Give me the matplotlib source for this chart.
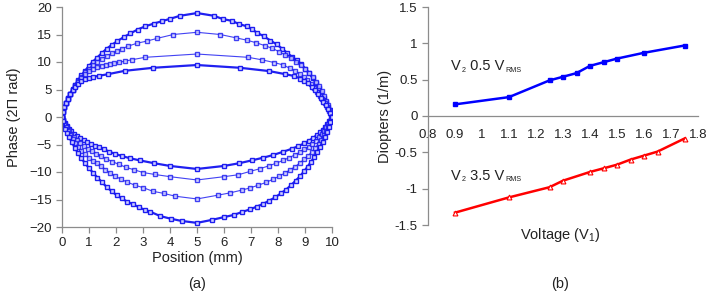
import numpy as np
import matplotlib
matplotlib.use('Agg')
import matplotlib.pyplot as plt

plt.rcParams['font.family'] = ['Liberation Sans', 'DejaVu Sans']
plt.rcParams['mathtext.fontset'] = 'custom'
plt.rcParams['mathtext.rm'] = 'Liberation Sans'

# ---- panel (a): phase profiles, upper curves ----
up19_x = [0, 0.04, 0.09, 0.15, 0.22, 0.30, 0.39, 0.49, 0.60, 0.72, 0.85, 0.99, 1.14, 1.30,
          1.47, 1.65, 1.84, 2.05, 2.28, 2.53, 2.80, 3.09, 3.41, 3.69, 4.0, 4.37, 5.0,
          5.63, 5.96, 6.28, 6.56, 6.84, 7.02, 7.23, 7.47, 7.72, 7.95, 8.16, 8.35, 8.53,
          8.70, 8.86, 9.01, 9.15, 9.28, 9.40, 9.51, 9.61, 9.70, 9.78, 9.85, 9.91, 9.96, 10.0]
up19_y = [0, 1.05, 1.84, 2.62, 3.41, 4.22, 5.03, 5.86, 6.70, 7.55, 8.39, 9.24, 10.05, 10.8,
          11.6, 12.4, 13.1, 13.8, 14.5, 15.2, 15.9, 16.5, 17.0, 17.4, 17.85, 18.4, 18.9,
          18.4, 17.8, 17.5, 16.9, 16.5, 16.0, 15.3, 14.7, 13.9, 13.2, 12.4, 11.6, 10.9,
          10.3, 9.6, 8.8, 8.0, 7.1, 6.2, 5.3, 4.4, 3.5, 2.7, 1.9, 1.2, 0.5, 0]

up15_x = [0, 0.04, 0.09, 0.15, 0.22, 0.30, 0.39, 0.49, 0.60, 0.72, 0.85, 0.99, 1.14, 1.30,
          1.47, 1.65, 1.84, 2.02, 2.21, 2.46, 2.77, 3.14, 3.53, 4.12, 5.0,
          5.86, 6.44, 6.86, 7.19, 7.5, 7.78, 8.03, 8.26, 8.47, 8.66, 8.84, 9.0, 9.15,
          9.29, 9.41, 9.52, 9.62, 9.71, 9.79, 9.86, 9.92, 9.97, 10.0]
up15_y = [0, 1.05, 1.8, 2.6, 3.4, 4.2, 5.0, 5.8, 6.6, 7.35, 8.1, 8.8, 9.45, 10.05,
          10.6, 11.1, 11.55, 11.95, 12.4, 12.9, 13.4, 13.8, 14.3, 15.0, 15.4,
          15.0, 14.4, 13.95, 13.5, 13.0, 12.5, 11.9, 11.3, 10.7, 10.05, 9.4, 8.7, 7.95,
          7.2, 6.4, 5.6, 4.8, 3.9, 3.0, 2.1, 1.3, 0.6, 0]

up11_x = [0, 0.04, 0.09, 0.15, 0.22, 0.30, 0.39, 0.49, 0.60, 0.72, 0.85, 0.99, 1.14, 1.30,
          1.47, 1.62, 1.78, 1.94, 2.11, 2.33, 2.58, 3.07, 5.0,
          6.9, 7.4, 7.86, 8.2, 8.44, 8.63, 8.8, 8.95, 9.09, 9.22, 9.34, 9.45, 9.55,
          9.64, 9.73, 9.81, 9.88, 9.95, 10.0]
up11_y = [0, 1.0, 1.75, 2.5, 3.3, 4.1, 4.9, 5.7, 6.45, 7.15, 7.8, 8.35, 8.8, 9.1,
          9.35, 9.5, 9.65, 9.8, 9.95, 10.15, 10.4, 10.85, 11.45,
          10.85, 10.4, 9.9, 9.45, 8.85, 8.4, 7.9, 7.3, 6.7, 6.0, 5.3, 4.6, 3.9,
          3.2, 2.5, 1.8, 1.1, 0.5, 0]

up9_x = [0, 0.04, 0.09, 0.15, 0.22, 0.30, 0.39, 0.49, 0.60, 0.72, 0.85, 0.99, 1.16, 1.38,
         1.72, 2.33, 3.38, 5.0,
         6.59, 7.67, 8.26, 8.6, 8.82, 8.98, 9.12, 9.25, 9.37, 9.48, 9.58, 9.67, 9.76,
         9.84, 9.92, 10.0]
up9_y = [0, 1.0, 1.75, 2.5, 3.3, 4.1, 4.85, 5.5, 6.05, 6.5, 6.85, 7.1, 7.3, 7.5,
         7.8, 8.4, 8.95, 9.45,
         8.95, 8.35, 7.8, 7.45, 7.0, 6.6, 6.1, 5.5, 4.85, 4.2, 3.5, 2.8, 2.1,
         1.4, 0.7, 0]

# ---- panel (a): lower curves ----
lo9_x = [0, 0.05, 0.11, 0.18, 0.26, 0.35, 0.45, 0.56, 0.68, 0.80, 0.93, 1.07, 1.22, 1.38,
         1.55, 1.75, 1.97, 2.22, 2.52, 2.89, 3.41, 4.0, 5.0,
         6.0, 6.57, 7.02, 7.45, 7.83, 8.2, 8.5, 8.75, 8.97, 9.15, 9.3, 9.43, 9.55,
         9.65, 9.74, 9.82, 9.9, 9.96, 10.0]
lo9_y = [0, -0.5, -1.1, -1.6, -2.1, -2.6, -3.0, -3.4, -3.8, -4.15, -4.5, -4.85, -5.2, -5.5,
         -5.85, -6.3, -6.7, -7.1, -7.5, -7.9, -8.4, -8.9, -9.45,
         -8.9, -8.4, -7.9, -7.4, -6.9, -6.3, -5.8, -5.3, -4.8, -4.3, -3.8, -3.3, -2.8,
         -2.3, -1.8, -1.3, -0.8, -0.35, 0]

lo11_x = [0, 0.05, 0.11, 0.18, 0.26, 0.35, 0.45, 0.56, 0.68, 0.81, 0.95, 1.1, 1.26, 1.44,
          1.64, 1.86, 2.1, 2.37, 2.67, 3.01, 3.44, 4.0, 5.0,
          6.0, 6.53, 6.96, 7.33, 7.65, 7.93, 8.18, 8.41, 8.62, 8.81, 8.98, 9.13, 9.27,
          9.4, 9.52, 9.62, 9.71, 9.79, 9.86, 9.93, 10.0]
lo11_y = [0, -0.6, -1.2, -1.8, -2.4, -3.0, -3.6, -4.2, -4.75, -5.3, -5.8, -6.2, -6.65, -7.1,
          -7.6, -8.1, -8.6, -9.15, -9.6, -10.1, -10.45, -10.85, -11.45,
          -10.85, -10.5, -9.9, -9.4, -8.9, -8.4, -7.9, -7.4, -6.9, -6.4, -5.9, -5.4, -4.85,
          -4.3, -3.7, -3.1, -2.5, -1.9, -1.3, -0.7, 0]

lo15_x = [0, 0.04, 0.09, 0.15, 0.22, 0.3, 0.39, 0.49, 0.6, 0.72, 0.85, 0.99, 1.13, 1.28,
          1.44, 1.61, 1.78, 1.97, 2.18, 2.4, 2.7, 3.01, 3.36, 3.78, 4.19, 5.0,
          5.79, 6.22, 6.65, 6.96, 7.27, 7.55, 7.8, 8.03, 8.25, 8.45, 8.64, 8.81, 8.97,
          9.12, 9.26, 9.38, 9.5, 9.6, 9.69, 9.77, 9.85, 9.92, 9.97, 10.0]
lo15_y = [0, -0.6, -1.25, -1.9, -2.6, -3.3, -4.0, -4.7, -5.4, -6.1, -6.8, -7.45, -7.95, -8.4,
          -8.9, -9.55, -10.2, -10.75, -11.3, -11.8, -12.4, -12.85, -13.5, -13.9, -14.4, -14.9,
          -14.2, -13.8, -13.3, -12.9, -12.4, -11.9, -11.35, -10.8, -10.2, -9.6, -9.0, -8.35, -7.7,
          -7.0, -6.3, -5.6, -4.85, -4.1, -3.3, -2.5, -1.7, -0.9, -0.4, 0]

lo19_x = [0, 0.04, 0.11, 0.18, 0.26, 0.36, 0.47, 0.6, 0.72, 0.85, 1.0, 1.16, 1.31, 1.47,
          1.65, 1.84, 2.02, 2.21, 2.42, 2.64, 2.85, 3.07, 3.26, 3.63, 4.03, 4.43, 5.0,
          5.56, 6.0, 6.37, 6.65, 6.96, 7.21, 7.45, 7.68, 7.9, 8.1, 8.3, 8.48, 8.65,
          8.81, 8.96, 9.1, 9.23, 9.35, 9.46, 9.56, 9.65, 9.73, 9.81, 9.88, 9.94, 10.0]
lo19_y = [0, -0.8, -2.1, -2.9, -3.7, -4.5, -5.6, -6.6, -7.5, -8.4, -9.3, -10.2, -11.0, -11.8,
          -12.7, -13.5, -14.2, -14.8, -15.4, -15.9, -16.4, -16.9, -17.2, -18.0, -18.5, -18.9, -19.25,
          -18.7, -18.2, -17.8, -17.3, -16.8, -16.3, -15.8, -15.2, -14.6, -13.9, -13.2, -12.4, -11.6,
          -10.8, -9.9, -9.0, -8.1, -7.2, -6.3, -5.4, -4.5, -3.6, -2.7, -1.8, -0.9, 0]

# ---- panel (b): diopters vs voltage ----
v1_blue = [0.9, 1.1, 1.25, 1.3, 1.35, 1.4, 1.45, 1.5, 1.6, 1.75]
d_blue = [0.16, 0.26, 0.49, 0.54, 0.59, 0.69, 0.74, 0.79, 0.87, 0.97]
v1_red = [0.9, 1.1, 1.25, 1.3, 1.4, 1.45, 1.5, 1.55, 1.6, 1.65, 1.75]
d_red = [-1.33, -1.12, -0.98, -0.89, -0.77, -0.72, -0.67, -0.60, -0.545, -0.49, -0.31]

blue = '#1414f0'
spine_c = '#8c8c8c'
txt_c = '#222222'


def label_with_subs(ax, x, y, parts, size=10.5):
    """Write text from (string, is_subscript) pieces on one baseline; subscripts small."""
    fig = ax.figure
    fig.canvas.draw()
    r = fig.canvas.get_renderer()
    dx = 0.0  # running offset in points
    for s, sub in parts:
        fs = size * 0.5 if sub else size
        dy = -1.0 if sub else 0.0
        t = ax.annotate(s, xy=(x, y), xycoords='data', xytext=(dx, dy),
                        textcoords='offset points', fontsize=fs, color=txt_c,
                        va='baseline', ha='left')
        w = t.get_window_extent(renderer=r).width * 72.0 / fig.dpi
        dx += w + (0.6 if sub else 0.4)


fig = plt.figure(figsize=(7.08, 2.94), dpi=100)

# ---------- (a) ----------
ax = fig.add_axes([62 / 708, 67 / 294, 270 / 708, 220 / 294])
curves = [(up19_x, up19_y, 1.6), (up15_x, up15_y, 0.8), (up11_x, up11_y, 0.8),
          (up9_x, up9_y, 1.6), (lo9_x, lo9_y, 1.6), (lo11_x, lo11_y, 0.8),
          (lo15_x, lo15_y, 0.8), (lo19_x, lo19_y, 1.6)]
for cx, cy, lw in curves:
    ax.plot(cx, cy, '-', color=blue, lw=lw, marker='s', ms=3.4, mfc='#d8d8ff',
            mec=blue, mew=1.0, alpha=0.95 if lw > 1 else 0.8)

ax.set_xlim(0, 10)
ax.set_ylim(-20, 20)
ax.set_xticks(range(0, 11))
ax.set_yticks(range(-20, 21, 5))
for s in ['top', 'right']:
    ax.spines[s].set_visible(False)
for s in ['left', 'bottom']:
    ax.spines[s].set_color(spine_c)
    ax.spines[s].set_linewidth(0.9)
ax.tick_params(colors=spine_c, labelcolor=txt_c, labelsize=9.5, length=4, width=0.9)
ax.set_xlabel('Position (mm)', fontsize=10.5, color=txt_c, labelpad=1)
ax.set_ylabel('Phase (2\u03a0 rad)', fontsize=10.5, color=txt_c, labelpad=6)
fig.text(197 / 708, 1 - 284 / 294, '(a)', fontsize=10.5, ha='center', va='center', color=txt_c)

# ---------- (b) ----------
bx = fig.add_axes([428 / 708, 69 / 294, 270 / 708, 218 / 294])
bx.plot(v1_blue, d_blue, '-', color='#0000ff', lw=1.8, marker='s', ms=3.5,
        mfc='#0000ff', mec='#0000ff')
bx.plot(v1_red, d_red, '-', color='#ff0000', lw=1.8, marker='^', ms=3.5,
        mfc='white', mec='#ff0000', mew=0.8)
bx.set_xlim(0.8, 1.8)
bx.set_ylim(-1.5, 1.5)
bx.set_xticks(np.arange(0.8, 1.81, 0.1))
bx.set_xticklabels(['0.8', '0.9', '1', '1.1', '1.2', '1.3', '1.4', '1.5', '1.6', '1.7', '1.8'])
bx.set_yticks([-1.5, -1, -0.5, 0, 0.5, 1, 1.5])
bx.set_yticklabels(['-1.5', '-1', '-0.5', '0', '0.5', '1', '1.5'])
bx.spines['bottom'].set_position(('data', 0))
for s in ['top', 'right']:
    bx.spines[s].set_visible(False)
for s in ['left', 'bottom']:
    bx.spines[s].set_color(spine_c)
    bx.spines[s].set_linewidth(0.9)
bx.tick_params(colors=spine_c, labelcolor=txt_c, labelsize=9.5, length=4, width=0.9)
bx.tick_params(axis='x', pad=9, length=0)
bx.set_ylabel('Diopters (1/m)', fontsize=10.5, color=txt_c, labelpad=2)
fig.text(560 / 708, 1 - 235 / 294, 'Voltage (V$_1$)', fontsize=10.5, ha='center',
         va='center', color=txt_c)
fig.text(560 / 708, 1 - 284 / 294, '(b)', fontsize=10.5, ha='center', va='center', color=txt_c)

label_with_subs(bx, 0.885, 0.63, [('V', False), ('2', True), (' 0.5 V', False), ('RMS', True)])
label_with_subs(bx, 0.885, -0.88, [('V', False), ('2', True), (' 3.5 V', False), ('RMS', True)])

fig.savefig('out.png', dpi=100)
